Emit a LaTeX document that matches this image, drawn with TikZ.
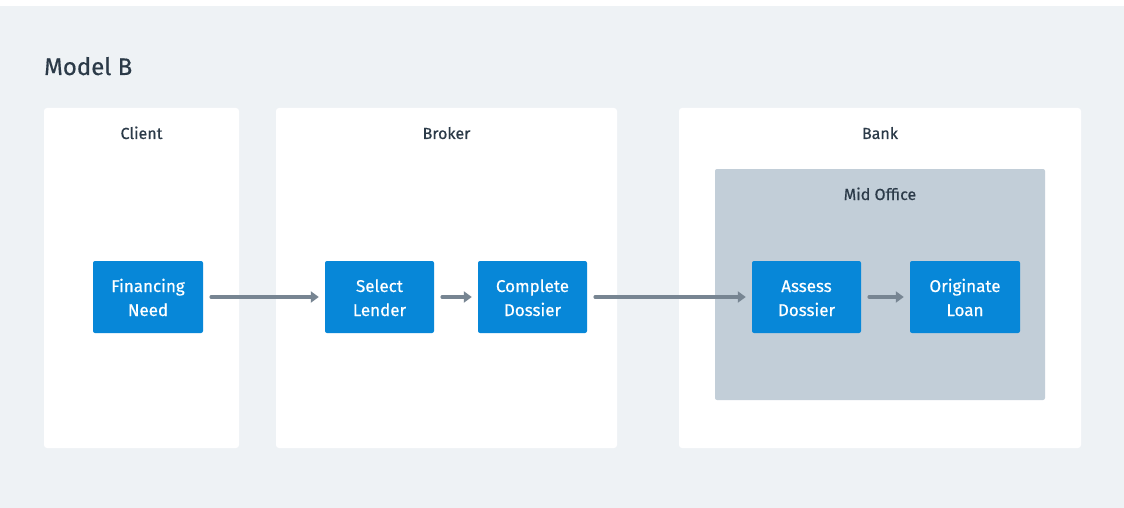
\documentclass[tikz,border=0pt]{standalone}
\usepackage{fontspec}
\setmainfont{Fira Sans}
\newfontfamily\medfont{Fira Sans}[FakeBold=0.5]
\newcommand\boxstrut{\rule[-4pt]{0pt}{22pt}}
\usetikzlibrary{arrows.meta}
\definecolor{bggray}{HTML}{EEF2F5}
\definecolor{midgray}{HTML}{C2CED8}
\definecolor{stepblue}{HTML}{0787D8}
\definecolor{inktext}{HTML}{2B3A48}
\definecolor{arrowgray}{HTML}{778592}
\tikzset{
  panel/.style={fill=white, draw=none, rounded corners=3pt},
  midpanel/.style={fill=midgray, draw=none, rounded corners=2pt},
  stepbox/.style={fill=stepblue, rounded corners=2pt, text=white, align=center,
    font=\medfont\fontsize{17}{24}\selectfont, inner sep=0pt},
  paneltitle/.style={text=inktext, font=\medfont\fontsize{16}{20}\selectfont, anchor=base},
  flow/.style={draw=arrowgray, line width=3.5pt, line cap=round,
    -{Triangle[length=8pt,width=11pt]}, shorten >=1pt}
}
\begin{document}
\begin{tikzpicture}[x=1pt,y=-1pt]
\useasboundingbox (0,0) rectangle (1124,508);
\fill[white] (0,0) rectangle (1124,508);
\fill[bggray] (0,6) rectangle (1124,508);
\node[text=inktext, font=\medfont\fontsize{24}{28}\selectfont, anchor=base west, inner sep=0pt] (title) at (44,75) {Model B};
% panels
\fill[panel] (44,108) rectangle (239,448);
\fill[panel] (276,108) rectangle (617,448);
\fill[panel] (679,108) rectangle (1081,448);
\fill[midpanel] (715,169) rectangle (1045,400);
\node[paneltitle] (client) at (141.5,139) {Client};
\node[paneltitle] (broker) at (446.5,139) {Broker};
\node[paneltitle] (bank) at (880,139) {Bank};
\node[paneltitle] (mid) at (880,200) {Mid Office};
% steps
\node[stepbox, minimum width=110pt, minimum height=72pt] (need) at (148,297) {\boxstrut Financing\\\boxstrut Need};
\node[stepbox, minimum width=109pt, minimum height=72pt] (select) at (379.5,297) {\boxstrut Select\\\boxstrut Lender};
\node[stepbox, minimum width=109pt, minimum height=72pt] (complete) at (532.5,297) {\boxstrut Complete\\\boxstrut Dossier};
\node[stepbox, minimum width=109pt, minimum height=72pt] (assess) at (806.5,297) {\boxstrut Assess\\\boxstrut Dossier};
\node[stepbox, minimum width=110pt, minimum height=72pt] (originate) at (965,297) {\boxstrut Originate\\\boxstrut Loan};
% connectors
\draw[flow, shorten <=8pt, shorten >=6pt] (need) -- (select);
\draw[flow, shorten <=8pt, shorten >=6pt] (select) -- (complete);
\draw[flow, shorten <=8pt, shorten >=6pt] (complete) -- (assess);
\draw[flow, shorten <=8pt, shorten >=6pt] (assess) -- (originate);
\end{tikzpicture}
\end{document}
